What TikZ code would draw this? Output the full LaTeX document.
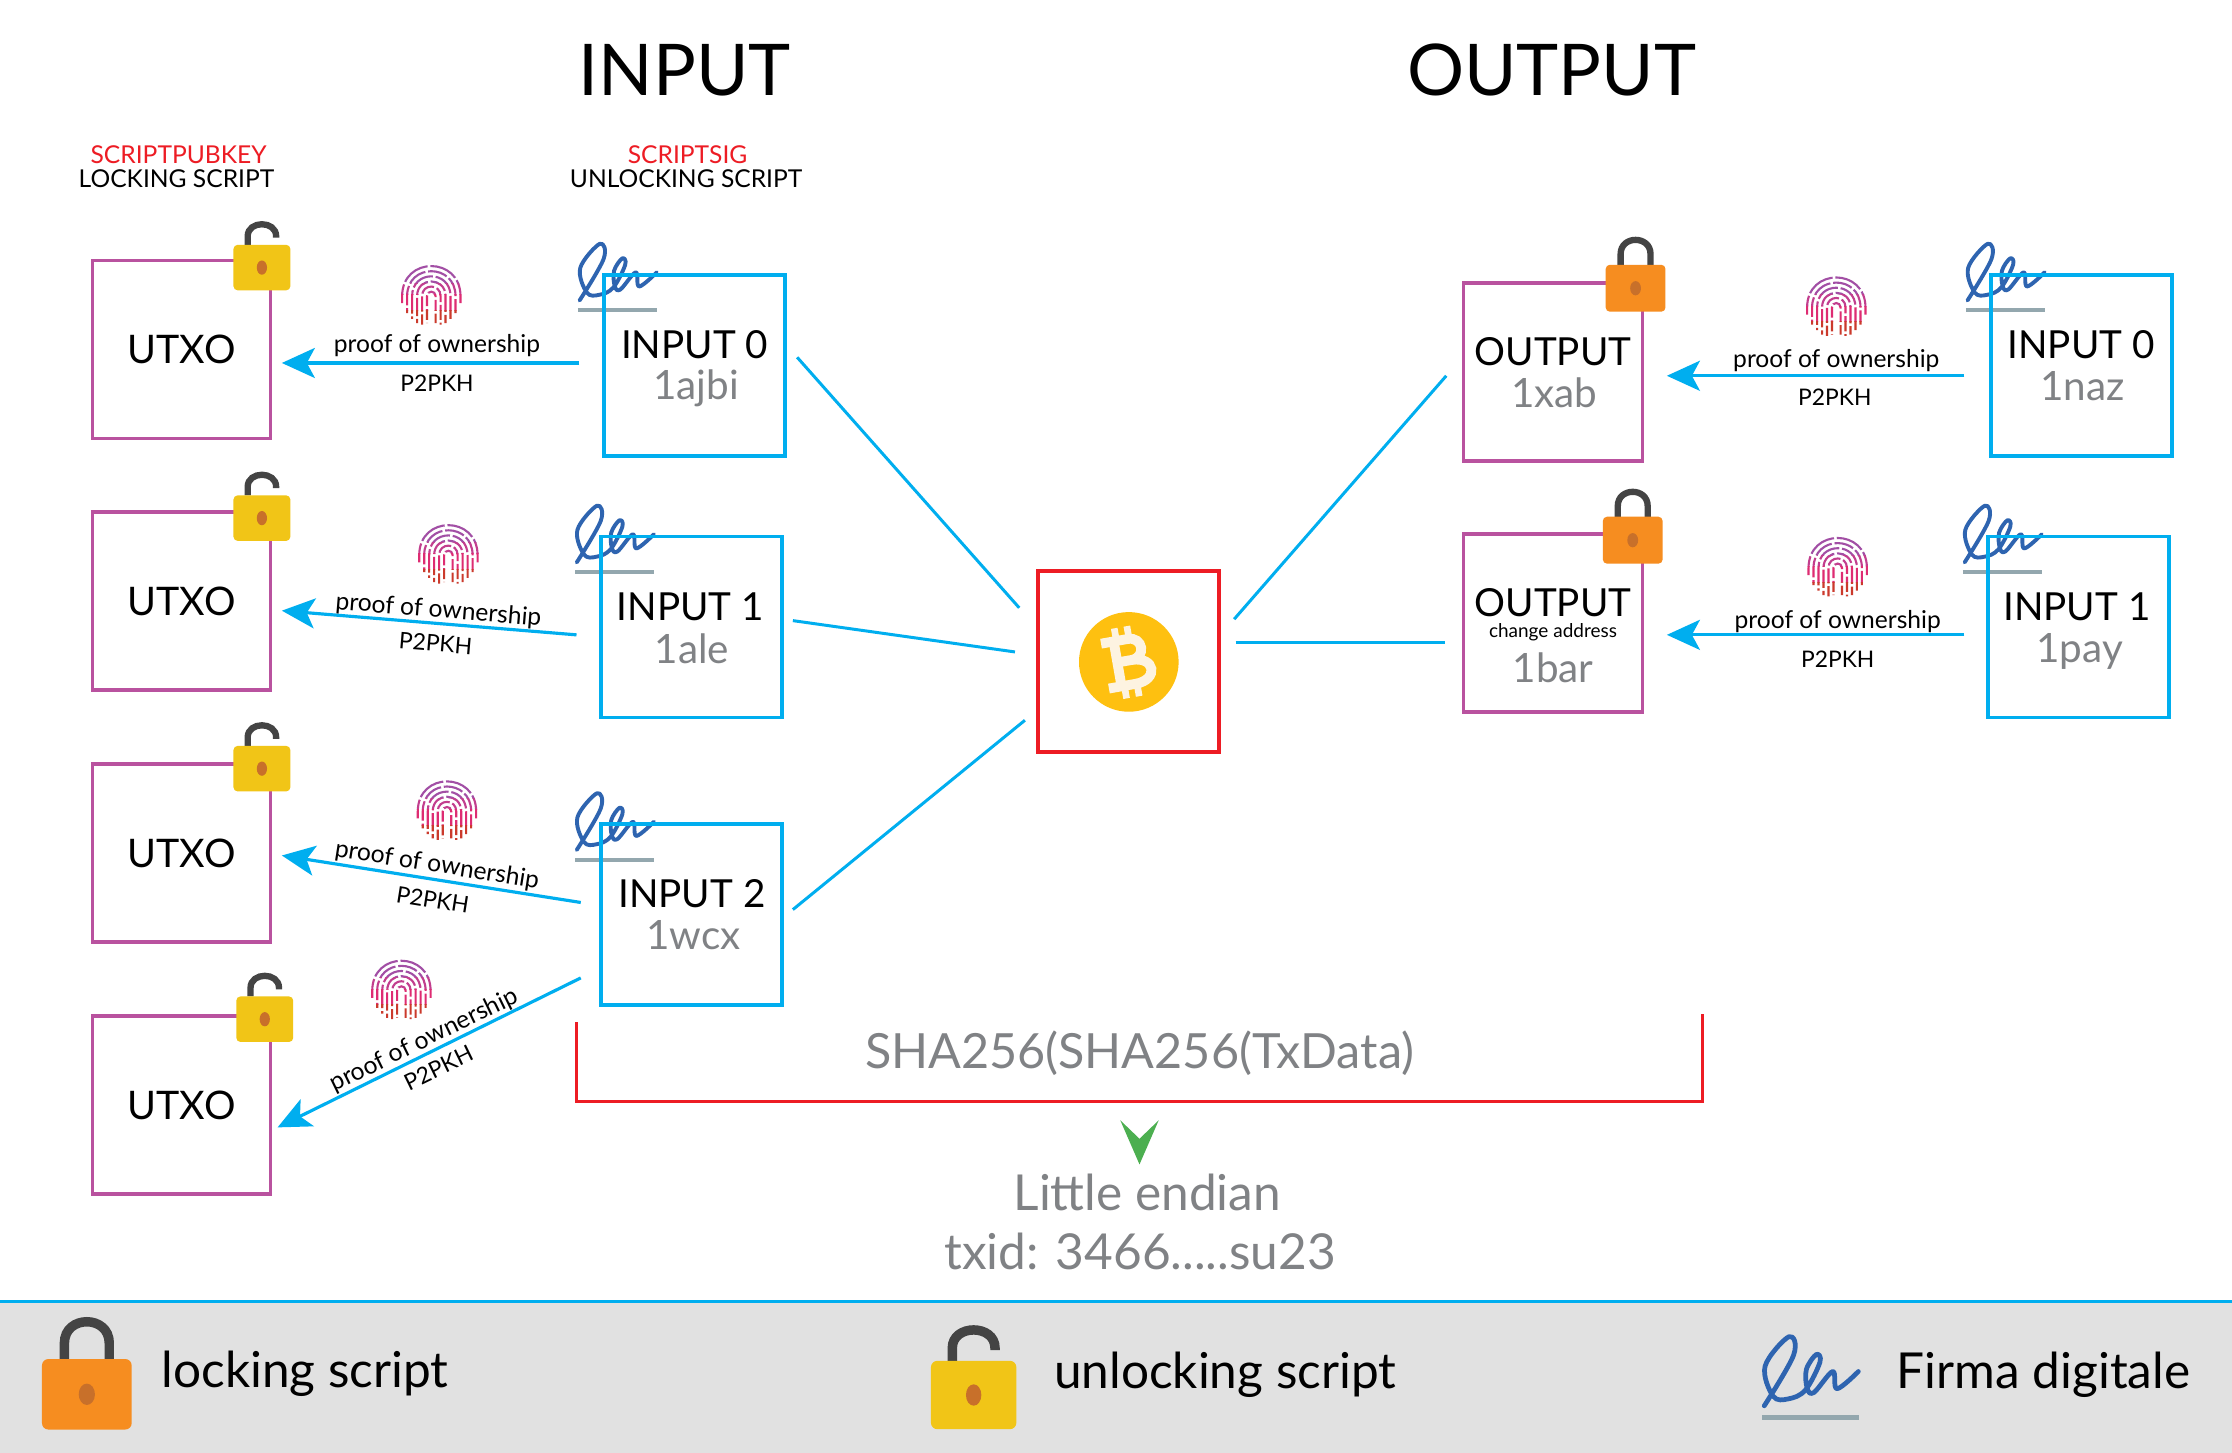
\documentclass[tikz,border=0pt]{standalone}
\usepackage{fontspec}
\setmainfont{Lato}
\usetikzlibrary{arrows.meta}
\definecolor{cblue}{HTML}{00AEEF}
\definecolor{cpurple}{HTML}{B9529F}
\definecolor{cred}{HTML}{ED1C24}
\definecolor{cgrey}{HTML}{808285}
\definecolor{corange}{HTML}{F68D20}
\definecolor{cyellow}{HTML}{F1C517}
\definecolor{cdark}{HTML}{444444}
\definecolor{ckey}{HTML}{C8702A}
\definecolor{csig}{HTML}{2E64B0}
\definecolor{csigl}{HTML}{93A7AE}
\definecolor{cbar}{HTML}{E1E1E1}
\definecolor{ccoin}{HTML}{FEC010}
\definecolor{ccream}{HTML}{FDF3E1}
\definecolor{fpa}{HTML}{A24FA5}
\definecolor{fpb}{HTML}{C23E8E}
\definecolor{fpc}{HTML}{DE2C72}
\definecolor{fpd}{HTML}{CB3A2C}
\definecolor{cgreen}{HTML}{4CAF50}
\tikzset{
 x=0.14235mm,y=-0.14235mm,
 txtbox/.style={draw=cblue,line width=1.1pt,fill=none,minimum width=18.1mm,minimum height=18.1mm,inner sep=0pt},
 utxobox/.style={draw=cpurple,line width=1.1pt,minimum width=17.8mm,minimum height=17.8mm,inner sep=0pt,font=\fontsize{11.2}{13}\selectfont},
 outbox/.style={draw=cpurple,line width=1.1pt,minimum width=17.9mm,minimum height=17.8mm,inner sep=0pt},
 txbox/.style={draw=cred,line width=1.1pt,minimum width=18.1mm,minimum height=18.1mm,inner sep=0pt},
 boxtitle/.style={inner sep=0pt,font=\fontsize{11}{13}\selectfont},
 addr/.style={inner sep=0pt,text=cgrey,font=\fontsize{11.5}{13}\selectfont},
 tinyp/.style={inner sep=0pt,font=\fontsize{7}{8}\selectfont},
 tinyk/.style={inner sep=0pt,font=\fontsize{6.5}{8}\selectfont},
 head/.style={inner sep=0pt,font=\fontsize{20.3}{24}\selectfont},
 scr/.style={inner sep=0pt,font=\fontsize{7}{9}\selectfont},
 sha/.style={inner sep=0pt,text=cgrey,font=\fontsize{13.8}{16}\selectfont},
 grt/.style={inner sep=0pt,text=cgrey,font=\fontsize{14.1}{16}\selectfont},
 legend/.style={inner sep=0pt,anchor=west,font=\fontsize{14.1}{16}\selectfont},
 link/.style={draw=cblue,line width=0.85pt},
 proof/.style={draw=cblue,line width=0.9pt,-{Stealth[length=3.3mm,width=3.0mm,inset=0.8mm]}},
}
\newcommand{\padclosed}[3]{\begin{scope}[shift={(#1,#2)},scale=#3]
 \draw[cdark,line width=1.8pt*#3] (-10.5,-16) -- (-10.5,-24) .. controls (-10.5,-37.3) and (10.5,-37.3) .. (10.5,-24) -- (10.5,-16);
 \fill[corange,rounded corners=1.2pt*#3] (-21,-16.5) rectangle (21,16.5);
 \fill[ckey] (0,0) ellipse [x radius=3.8,y radius=5];
\end{scope}}
\newcommand{\padopen}[3]{\begin{scope}[shift={(#1,#2)},scale=#3]
 \draw[cdark,line width=1.8pt*#3] (-10,-16) -- (-10,-22) .. controls (-10,-33.3) and (10,-33.3) .. (10,-22) -- (10,-21);
 \fill[cyellow,rounded corners=1.2pt*#3] (-20,-16) rectangle (20,16);
 \fill[ckey] (0,0) ellipse [x radius=3.6,y radius=5];
\end{scope}}
\newcommand{\signat}[3]{\begin{scope}[shift={(#1,#2)},scale=#3]
 \draw[csig,line width=1.35pt*#3,line cap=round,line join=round] plot[smooth,tension=0.6] coordinates {(1.4,-8.4) (22,-44) (18.8,-57) (2,-36.3) (7.6,-15.2) (18.4,-13.3) (30.3,-19.5) (40.5,-39) (38,-44.5) (31,-34) (31.5,-21) (36.2,-17.7) (49.5,-32.5) (52.5,-20.4) (67.5,-32.5)};
 \draw[csigl,line width=1.3pt*#3] (0,0) -- (68,0);
\end{scope}}
\newcommand{\fparches}{%
 \foreach \r/\b/\d in {3/19/3.1,6.5/20/4.3,10/19/5.2,13.5/16/6.7,17/12/5.6,20.5/5/8.1}{
  \draw[line width=0.6pt,dash pattern=on \d pt off 0.8pt,dash phase=\r pt]
   (-\r,\b) -- (-\r,0) .. controls (-\r,{-1.37*\r}) and (\r,{-1.37*\r}) .. (\r,0) -- (\r,\b);
 }}
\newcommand{\fingerp}[2]{\begin{scope}[shift={(#1,#2)}]
 \begin{scope}\clip (-23,-24) rectangle (23,-9);\begin{scope}[fpa]\fparches\end{scope}\end{scope}
 \begin{scope}\clip (-23,-9) rectangle (23,-1);\begin{scope}[fpb]\fparches\end{scope}\end{scope}
 \begin{scope}\clip (-23,-1) rectangle (23,10);\begin{scope}[fpc]\fparches\end{scope}\end{scope}
 \begin{scope}\clip (-23,10) rectangle (23,24);\begin{scope}[fpd]\fparches\end{scope}\end{scope}
\end{scope}}
\begin{document}
\begin{tikzpicture}
\useasboundingbox (0,0) rectangle (1568,1020.75);
\fill[white] (0,0) rectangle (1568,1020.75);
% legend bar
\fill[cbar] (0,914) rectangle (1568,1020.75);
\draw[cblue,line width=0.85pt] (0,914) -- (1568,914);
% headings
\node[head] (hin) at (481,49.5) {INPUT};
\node[head] (hout) at (1090,49.5) {OUTPUT};
\node[scr,text=cred] (s1) at (125.5,108.5) {SCRIPTPUBKEY};
\node[scr] (s2) at (124,125.5) {LOCKING SCRIPT};
\node[scr,text=cred] (s3) at (483,108.5) {SCRIPTSIG};
\node[scr] (s4) at (482,125.5) {UNLOCKING SCRIPT};
% signatures behind boxes
\signat{406}{218}{0.82}
\signat{404}{402}{0.82}
\signat{404}{604}{0.82}
\signat{1381}{218}{0.82}
\signat{1379}{402}{0.82}
% boxes
\node[utxobox] (u0) at (127.5,245.5) {UTXO};
\node[utxobox] (u1) at (127.5,422.5) {UTXO};
\node[utxobox] (u2) at (127.5,599.5) {UTXO};
\node[utxobox] (u3) at (127.5,776.5) {UTXO};
\node[txtbox] (i0) at (488,256.5) {};
\node[txtbox] (i1) at (486,440.5) {};
\node[txtbox] (i2) at (486,642.5) {};
\node[txtbox] (r0) at (1462,256.5) {};
\node[txtbox] (r1) at (1460,440.5) {};
\node[outbox] (o0) at (1091,261.5) {};
\node[outbox] (o1) at (1091,437.5) {};
\node[txbox] (tx) at (793,464.5) {};
% box texts
\node[boxtitle] (i0a) at (488,242) {INPUT 0};
\node[addr] (i0b) at (489,272.5) {1ajbi};
\node[boxtitle] (i1a) at (485,426) {INPUT 1};
\node[addr] (i1b) at (486,455.5) {1ale};
\node[boxtitle] (i2a) at (486,628) {INPUT 2};
\node[addr] (i2b) at (487,657) {1wcx};
\node[boxtitle] (r0a) at (1462,242) {INPUT 0};
\node[addr] (r0b) at (1463,271) {1naz};
\node[boxtitle] (r1a) at (1459,426) {INPUT 1};
\node[addr] (r1b) at (1461,458) {1pay};
\node[boxtitle] (o0a) at (1091,247) {OUTPUT};
\node[addr] (o0b) at (1092,276) {1xab};
\node[boxtitle] (o1a) at (1091,423.5) {OUTPUT};
\node[inner sep=0pt,font=\fontsize{5.4}{6}\selectfont] (o1c) at (1091,444) {change address};
\node[addr] (o1b) at (1091,469) {1bar};
% coin
\fill[ccoin] (793,465) circle [radius=35];
\begin{scope}[shift={(793,465)},rotate=10]
 \draw[ccream,line width=2.8pt,line join=miter] (-17,-16) -- (2,-16) .. controls (13,-16) and (13,-1) .. (2,-1) -- (-7,-1) (2,-1) .. controls (19,-1) and (19,16) .. (2,16) -- (-17,16);
 \draw[ccream,line width=2.8pt] (-8,-16) -- (-8,16);
 \draw[ccream,line width=1.9pt] (-6,-25) -- (-6,-16) (3,-25) -- (3,-16) (-6,16) -- (-6,25) (3,16) -- (3,25);
\end{scope}
% locks
\padopen{184}{188}{1}
\padopen{184}{364}{1}
\padopen{184}{540}{1}
\padopen{186}{716}{1}
\padclosed{1149}{202.5}{1}
\padclosed{1147}{379.5}{1}
% fingerprints
\fingerp{303}{208}
\fingerp{315}{390}
\fingerp{314}{570}
\fingerp{282}{696}
\fingerp{1290}{216}
\fingerp{1291}{399}
% connector ends
\coordinate (l0a) at (560,251); \coordinate (l0b) at (716,427);
\coordinate (l1a) at (557,436); \coordinate (l1b) at (713,458);
\coordinate (l2a) at (557,639); \coordinate (l2b) at (720,506);
\coordinate (l3a) at (867,435); \coordinate (l3b) at (1016,264);
\coordinate (l4a) at (868,451.5); \coordinate (l4b) at (1015,451.5);
\draw[link] (l0a) -- (l0b);
\draw[link] (l1a) -- (l1b);
\draw[link] (l2a) -- (l2b);
\draw[link] (l3a) -- (l3b);
\draw[link] (l4a) -- (l4b);
% proof arrows
\coordinate (a0s) at (407,255); \coordinate (a0e) at (198,255);
\coordinate (a1s) at (405,446); \coordinate (a1e) at (198,429);
\coordinate (a2s) at (408,634); \coordinate (a2e) at (198,601);
\coordinate (a3s) at (408,687); \coordinate (a3e) at (195,792);
\coordinate (b0s) at (1380,264); \coordinate (b0e) at (1171,264);
\coordinate (b1s) at (1380,446); \coordinate (b1e) at (1171,446);
\draw[proof] (a0s) -- (a0e);
\draw[proof] (a1s) -- (a1e);
\draw[proof] (a2s) -- (a2e);
\draw[proof] (a3s) -- (a3e);
\draw[proof] (b0s) -- (b0e);
\draw[proof] (b1s) -- (b1e);
\node[tinyp] (p0) at (307,243) {proof of ownership};
\node[tinyk] (k0) at (307,269) {P2PKH};
\node[tinyp,rotate=-4.7] (p1) at (308,429) {proof of ownership};
\node[tinyk,rotate=-4.7] (k1) at (306,452) {P2PKH};
\node[tinyp,rotate=-9] (p2) at (307,608) {proof of ownership};
\node[tinyk,rotate=-9] (k2) at (304,632) {P2PKH};
\node[tinyp,rotate=26] (p3) at (298,731) {proof of ownership};
\node[tinyk,rotate=26] (k3) at (308,750) {P2PKH};
\node[tinyp] (p4) at (1290,253) {proof of ownership};
\node[tinyk] (k4) at (1289,279) {P2PKH};
\node[tinyp] (p5) at (1291,437) {proof of ownership};
\node[tinyk] (k5) at (1291,463) {P2PKH};
% bracket
\coordinate (bra) at (405,718); \coordinate (brb) at (405,774); \coordinate (brc) at (1196,774); \coordinate (brd) at (1196,712);
\draw[cred,line width=0.85pt] (bra) -- (brb) -- (brc) -- (brd);
\node[sha] (sha) at (800.5,740) {SHA256(SHA256(TxData)};
\fill[cgreen] (787,787) -- (800.5,800) -- (814,787) -- (800.5,818) -- cycle;
\node[grt] (le) at (806,838) {Little endian};
\node[grt] (id) at (801,879) {txid: 3466.....su23};
% legend
\padclosed{61}{979.5}{1.5}
\node[legend] (l1) at (113,965) {locking script};
\padopen{684}{980}{1.5}
\node[legend] (l2) at (740,966) {unlocking script};
\signat{1238}{996}{1}
\node[legend] (l3) at (1332,966) {Firma digitale};
\end{tikzpicture}
\end{document}
